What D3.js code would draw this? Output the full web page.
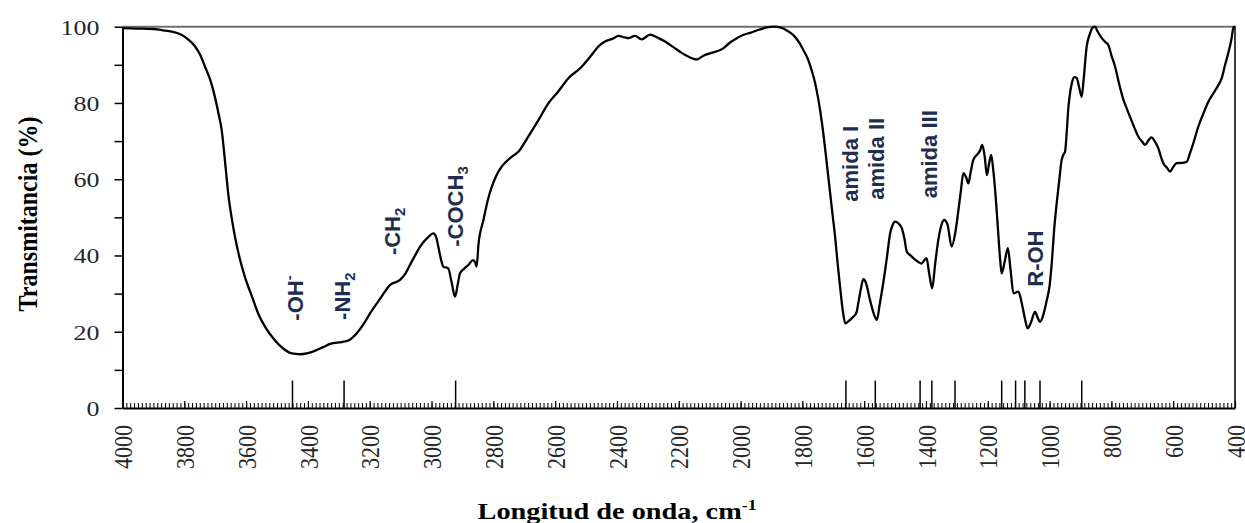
<!DOCTYPE html>
<html lang="es">

<head>
    <meta charset="UTF-8">
    <title>FTIR</title>
    <script src="https://d3js.org/d3.v7.min.js"></script>
    <style>
        body { margin: 0; background: #fff; }
    </style>
</head>

<body>

    <svg width="1245" height="523"></svg>

</body>

<script>
    // espectro: numero de onda (cm-1) y transmitancia (%)
    var wavenumber = [
        4000, 3950, 3900, 3873, 3840, 3808, 3785, 3765, 3748, 3733, 3715, 3701, 3690, 3679, 3668, 3658,
        3646, 3636, 3620, 3604, 3580, 3561, 3535, 3507, 3480, 3452, 3426, 3400, 3372, 3350, 3328, 3290,
        3269, 3242, 3220, 3199, 3165, 3134, 3102, 3085, 3070, 3050, 3037, 3010, 2994, 2985, 2978, 2968,
        2962, 2946, 2935, 2924, 2915, 2908, 2895, 2881, 2865, 2858, 2854, 2848, 2832, 2818, 2805, 2790,
        2773, 2740, 2719, 2687, 2654, 2622, 2590, 2557, 2519, 2482, 2460, 2439, 2410, 2396, 2375, 2363,
        2342, 2320, 2293, 2270, 2244, 2215, 2192, 2165, 2142, 2120, 2099, 2056, 2035, 2012, 1990, 1969,
        1940, 1915, 1890, 1872, 1850, 1829, 1810, 1797, 1782, 1770, 1758, 1748, 1737, 1727, 1718, 1710,
        1702, 1694, 1686, 1678, 1670, 1661, 1650, 1635, 1625, 1619, 1610, 1603, 1595, 1581, 1570, 1559,
        1550, 1532, 1524, 1516, 1508, 1500, 1490, 1478, 1470, 1462, 1450, 1441, 1425, 1414, 1405, 1398,
        1390, 1380, 1370, 1360, 1350, 1341, 1330, 1317, 1305, 1295, 1287, 1279, 1270, 1263, 1255, 1247,
        1231, 1225, 1218, 1210, 1203, 1196, 1189, 1183, 1177, 1168, 1160, 1155, 1145, 1135, 1126, 1117,
        1101, 1090, 1080, 1071, 1060, 1047, 1040, 1031, 1020, 1009, 1000, 993, 985, 977, 969, 961,
        955, 950, 944, 939, 933, 928, 920, 912, 904, 896, 890, 880, 870, 860, 853, 845,
        831, 820, 810, 800, 788, 775, 761, 750, 740, 727, 713, 700, 691, 680, 670, 660,
        648, 640, 632, 620, 610, 600, 589, 570, 556, 545, 535, 520, 502, 485, 470, 455,
        443, 432, 422, 412, 405, 400
    ];
    var transmittance = [
        99.6, 99.5, 99.4, 99.1, 98.7, 97.8, 96.5, 94.8, 92.5, 89.5, 85.8, 81.6, 77.5, 72.9, 64.5, 56.3,
        49.5, 44.9, 39.0, 34.4, 29.0, 24.8, 20.8, 17.8, 15.6, 14.3, 14.1, 14.4, 15.2, 16.0, 16.8, 17.3,
        17.7, 19.6, 22.0, 24.8, 28.8, 32.3, 33.6, 35.2, 37.5, 40.5, 42.3, 44.9, 45.8, 44.8, 42.3, 38.5,
        37.1, 36.6, 33.0, 29.2, 32.5, 35.3, 36.5, 37.5, 38.8, 38.0, 37.1, 43.0, 49.3, 54.5, 58.0, 61.0,
        63.3, 65.9, 67.2, 71.2, 75.5, 79.9, 83.0, 86.5, 89.1, 92.6, 94.8, 96.1, 97.0, 97.6, 97.2, 97.0,
        97.6, 96.7, 97.9, 97.2, 96.1, 94.5, 93.2, 92.0, 91.4, 92.4, 93.0, 94.3, 95.8, 97.0, 97.9, 98.4,
        99.2, 99.8, 100, 99.8, 99.0, 97.8, 95.8, 93.9, 91.5, 88.6, 85.0, 80.8, 75.0, 68.5, 62.0, 56.3,
        50.5, 44.9, 38.0, 31.8, 26.0, 22.2, 22.8, 23.9, 25.0, 27.5, 31.5, 33.8, 33.0, 28.3, 25.0, 23.1,
        27.0, 36.2, 41.0, 45.8, 48.0, 48.9, 48.5, 47.1, 44.5, 41.0, 40.0, 39.3, 38.3, 37.9, 38.8, 39.3,
        35.5, 31.4, 38.0, 44.1, 48.0, 49.3, 48.0, 42.3, 46.0, 51.9, 57.0, 61.6, 60.5, 58.9, 62.0, 65.0,
        66.8, 67.5, 69.0, 66.0, 61.1, 64.0, 66.4, 63.0, 58.0, 48.0, 39.0, 35.3, 38.5, 41.9, 36.0, 30.1,
        30.5, 27.5, 23.5, 20.9, 22.5, 25.3, 24.0, 22.6, 24.5, 28.3, 32.0, 38.0, 47.0, 53.7, 59.5, 65.0,
        66.5, 67.2, 73.0, 79.0, 83.0, 85.2, 86.8, 86.5, 84.0, 81.6, 86.0, 94.8, 98.0, 99.8, 100, 98.8,
        97.0, 96.0, 95.2, 92.5, 89.5, 85.0, 80.8, 78.5, 76.4, 73.8, 71.2, 69.8, 69.0, 70.2, 71.0, 70.0,
        68.1, 66.0, 64.2, 63.0, 62.0, 63.2, 64.2, 64.3, 64.6, 67.0, 69.4, 73.5, 77.3, 80.5, 82.5, 84.5,
        86.5, 90.0, 93.0, 96.5, 99.8, 100
    ];

    // lineas verticales de los picos asignados
    var peakLines = [3450, 3283, 2922, 1659, 1564, 1419, 1381, 1306, 1155, 1110, 1080, 1031, 896];
    var peakLineHeight = 7.2;

    // etiquetas de los grupos funcionales (texto, indice, tipo de indice, posicion en datos)
    var labelText = ["-OH", "-NH", "-CH", "-COCH", "amida I", "amida II", "amida III", "R-OH"];
    var labelScript = ["-", "2", "2", "3", "", "", "", ""];
    var labelScriptType = ["sup", "sub", "sub", "sub", "", "", "", ""];
    var labelWn = [3440, 3291, 3128, 2924, 1646, 1562, 1390, 1047];
    var labelT = [22.9, 23.1, 40.1, 42.3, 54.1, 54.6, 55.0, 31.8];

    // ejes
    var xTicks = d3.range(4000, 399, -200);
    var xMinorTicks = d3.range(4000, 399, -12.5);
    var yTicks = d3.range(0, 101, 10);

    var spectrum = wavenumber.map(function(w, i) {
        return [w, transmittance[i]];
    });

    var svg = d3.select('svg');
    var plotLeft = 122.5, plotRight = 1235, plotTop = 26.7, plotBottom = 408;
    var sx = 1.18; // el texto de la figura original esta estirado en horizontal

    var x = d3.scaleLinear().domain([4000, 400]).range([plotLeft, plotRight]);
    var y = d3.scaleLinear().domain([0, 100]).range([plotBottom, plotTop]);

    // marco superior y derecho
    svg.append('line')
        .attr('x1', plotLeft).attr('x2', plotRight + 1).attr('y1', plotTop).attr('y2', plotTop)
        .attr('stroke', '#6f6f6f').attr('stroke-width', 2);
    svg.append('line')
        .attr('x1', plotRight).attr('x2', plotRight).attr('y1', plotTop).attr('y2', plotBottom)
        .attr('stroke', '#3c3c3c').attr('stroke-width', 2);

    // eje y
    var yAxis = svg.append('g')
        .attr('transform', 'translate(' + plotLeft + ',0)')
        .call(d3.axisLeft(y).tickValues(yTicks).tickSize(8).tickSizeOuter(0)
            .tickFormat(function(d) { return d % 20 === 0 ? d : ''; }));
    yAxis.select('.domain').attr('stroke', '#000').attr('stroke-width', 2);
    yAxis.selectAll('.tick line').attr('stroke', '#000').attr('stroke-width', 1.5);
    yAxis.selectAll('.tick text')
        .attr('x', 0)
        .attr('dy', '0.34em')
        .attr('transform', 'translate(-23,0) scale(' + sx + ',1)')
        .attr('font-family', 'Liberation Serif')
        .attr('font-size', 22)
        .attr('fill', '#262626');

    // marcas menores del eje x (hacia dentro)
    var xMinor = svg.append('g')
        .attr('transform', 'translate(0,' + plotBottom + ')')
        .call(d3.axisBottom(x).tickValues(xMinorTicks).tickSize(-5).tickSizeOuter(0).tickFormat(''));
    xMinor.select('.domain').remove();
    xMinor.selectAll('.tick line').attr('stroke', '#000').attr('stroke-width', 1);

    // eje x con marcas mayores
    var xAxis = svg.append('g')
        .attr('transform', 'translate(0,' + plotBottom + ')')
        .call(d3.axisBottom(x).tickValues(xTicks).tickSize(-7).tickSizeOuter(0).tickFormat(d3.format('d')));
    xAxis.select('.domain').attr('stroke', '#000').attr('stroke-width', 2);
    xAxis.selectAll('.tick line').attr('stroke', '#000').attr('stroke-width', 1.2);
    xAxis.selectAll('.tick text')
        .attr('x', 0)
        .attr('y', 0)
        .attr('dy', '0.35em')
        .attr('text-anchor', 'end')
        .attr('transform', 'translate(0,17) scale(' + sx + ',1) rotate(-90)')
        .attr('font-family', 'Liberation Serif')
        .attr('font-size', 22)
        .attr('fill', '#262626');

    // lineas de picos
    svg.append('g').selectAll('line')
        .data(peakLines)
        .join('line')
        .attr('x1', function(d) { return x(d); })
        .attr('x2', function(d) { return x(d); })
        .attr('y1', y(0))
        .attr('y2', y(peakLineHeight))
        .attr('stroke', '#000')
        .attr('stroke-width', 1.5);

    // espectro
    var line = d3.line()
        .x(function(d) { return x(d[0]); })
        .y(function(d) { return y(d[1]); })
        .curve(d3.curveMonotoneX);

    svg.append('path')
        .datum(spectrum)
        .attr('d', line)
        .attr('fill', 'none')
        .attr('stroke', '#000')
        .attr('stroke-width', 2.3)
        .attr('stroke-linejoin', 'round');

    // etiquetas de grupos funcionales
    labelText.forEach(function(t, i) {
        var label = svg.append('text')
            .attr('transform', 'translate(' + x(labelWn[i]) + ',' + y(labelT[i]) + ') rotate(-90)')
            .attr('dy', '0.36em')
            .attr('font-family', 'Liberation Sans')
            .attr('font-weight', 'bold')
            .attr('font-size', 22)
            .attr('fill', '#1f2e4e')
            .text(t);
        if (labelScript[i]) {
            label.append('tspan')
                .attr('font-size', 15)
                .attr('dy', labelScriptType[i] === 'sup' ? -9 : 5)
                .text(labelScript[i]);
        }
    });

    // titulos de los ejes
    var xTitle = svg.append('text')
        .attr('transform', 'translate(617,519) scale(' + sx + ',1)')
        .attr('text-anchor', 'middle')
        .attr('font-family', 'Liberation Serif')
        .attr('font-weight', 'bold')
        .attr('font-size', 24)
        .attr('fill', '#000')
        .text('Longitud de onda, cm');
    xTitle.append('tspan')
        .attr('font-size', 15)
        .attr('dy', -9)
        .text('-1');

    svg.append('text')
        .attr('transform', 'translate(37,214) scale(' + sx + ',1) rotate(-90)')
        .attr('text-anchor', 'middle')
        .attr('font-family', 'Liberation Serif')
        .attr('font-weight', 'bold')
        .attr('font-size', 24)
        .attr('fill', '#000')
        .text('Transmitancia (%)');
</script>

</html>
